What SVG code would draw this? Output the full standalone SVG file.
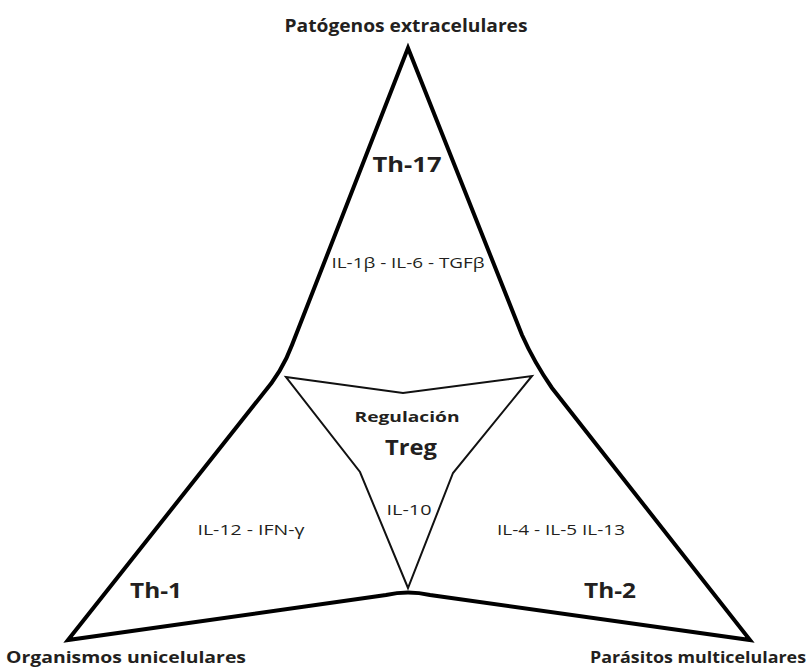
<svg xmlns="http://www.w3.org/2000/svg" width="809" height="670" viewBox="0 0 809 670">
<style>
.outer{fill:none;stroke:#000;stroke-width:4;stroke-linejoin:miter}
.inner{fill:none;stroke:#111;stroke-width:2;stroke-linejoin:miter}
.t{font-family:"Open Sans","Liberation Sans",sans-serif;fill:#231f20;text-anchor:middle}
.b{font-weight:bold}
</style>
<rect width="809" height="670" fill="#fff"/>
<g id="connectors">
<path class="outer" d="M68,640 L262,395 Q282,372 292,345 L408,48 L522,335 Q534,362 552,388 L750,640 L430,595 Q408,590 386,595 Z"/>
</g>
<g id="treg">
<path class="inner" d="M286,377 L403,393 L532,376 L453,473 L408,588 L360,472 Z"/>
<text class="t b" x="407" y="422" font-size="15" textLength="105" lengthAdjust="spacingAndGlyphs">Regulación</text>
<text class="t b" x="411" y="455" font-size="22" textLength="52" lengthAdjust="spacingAndGlyphs">Treg</text>
<text class="t" x="409" y="515" font-size="14" textLength="45" lengthAdjust="spacingAndGlyphs">IL-10</text>
</g>
<g id="th17">
<text class="t b" x="406" y="32" font-size="17" textLength="243" lengthAdjust="spacingAndGlyphs">Patógenos extracelulares</text>
<text class="t b" x="407" y="172" font-size="22" textLength="69" lengthAdjust="spacingAndGlyphs">Th-17</text>
<text class="t" x="408" y="268" font-size="14" textLength="153" lengthAdjust="spacingAndGlyphs">IL-1β - IL-6 - TGFβ</text>
</g>
<g id="th1">
<text class="t" x="251" y="535" font-size="14" textLength="107" lengthAdjust="spacingAndGlyphs">IL-12 - IFN-γ</text>
<text class="t b" x="156" y="598" font-size="22" textLength="52" lengthAdjust="spacingAndGlyphs">Th-1</text>
<text class="t b" x="126" y="663" font-size="16" textLength="240" lengthAdjust="spacingAndGlyphs">Organismos unicelulares</text>
</g>
<g id="th2">
<text class="t" x="561" y="535" font-size="14" textLength="128" lengthAdjust="spacingAndGlyphs">IL-4 - IL-5 IL-13</text>
<text class="t b" x="610" y="598" font-size="22" textLength="52" lengthAdjust="spacingAndGlyphs">Th-2</text>
<text class="t b" x="698" y="663" font-size="16" textLength="216" lengthAdjust="spacingAndGlyphs">Parásitos multicelulares</text>
</g>
</svg>
